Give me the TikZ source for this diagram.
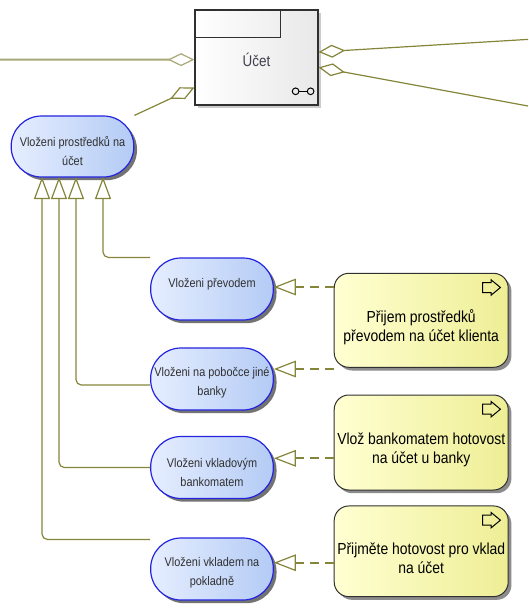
\documentclass[tikz,border=0pt]{standalone}
\usepackage{fontspec}
\setmainfont{Liberation Sans}[FakeStretch=0.87]
\usetikzlibrary{arrows.meta,shadows}
\definecolor{olv}{HTML}{85853A}
\definecolor{olvlight}{HTML}{A8A878}
\definecolor{bbord}{HTML}{2424E0}
\definecolor{bleft}{HTML}{E6EEFF}
\definecolor{bright}{HTML}{B4CBF5}
\definecolor{yleft}{HTML}{FFFFD2}
\definecolor{yright}{HTML}{EEEE96}
\definecolor{ubord}{HTML}{303030}
\definecolor{utext}{HTML}{40404E}
\definecolor{btext}{HTML}{303030}
\begin{document}
\begin{tikzpicture}[x=0.75pt,y=-0.75pt,
  bluebox/.style={draw=bbord,line width=0.9pt,rounded corners=22.8pt,
    left color=bleft,right color=bright,
    minimum width=92pt,minimum height=46.5pt,inner sep=0pt,
    drop shadow={shadow xshift=2.4pt,shadow yshift=-2.4pt,fill=black!55,opacity=1}},
  bluetext/.style={align=center,text=btext,inner sep=0pt,
    font=\fontsize{9.4pt}{14.25pt}\selectfont},
  yelbox/.style={draw=ubord,line width=0.75pt,rounded corners=11pt,
    left color=yleft,right color=yright,
    minimum width=130.5pt,inner sep=0pt,
    drop shadow={shadow xshift=2.4pt,shadow yshift=-2.4pt,fill=black!45,opacity=1}},
  yeltext/.style={align=center,text=black,inner sep=0pt,
    font=\fontsize{12pt}{14.25pt}\selectfont},
  classbox/.style={draw=ubord,line width=0.9pt,left color=white,right color=black!9,
    minimum width=92.25pt,minimum height=71.25pt,inner sep=0pt,
    drop shadow={shadow xshift=2.4pt,shadow yshift=-2.4pt,fill=black!20,opacity=1}},
  gen/.style={draw=olv,line width=0.9pt,rounded corners=4pt,
    -{Triangle[length=16.5pt,width=12pt,fill=white,line width=0.9pt]}},
  real/.style={draw=olv,line width=1.5pt,dash pattern=on 6.75pt off 4.5pt,
    -{Triangle[length=16.5pt,width=12.5pt,fill=white,line width=0.9pt,sep=0pt]}},
  agg/.style={draw=olv,line width=0.9pt,
    -{Diamond[length=20pt,width=9.75pt,fill=white,line width=0.9pt]}},
  icon/.style={draw=black,line width=0.75pt},
]
\useasboundingbox (0,0) rectangle (528,613);

% class box
\node[classbox] (u) at (256.5,57.5) {};
\draw[draw=ubord,line width=0.9pt] (u.north west) rectangle ++(86,28);
\node[text=utext,inner sep=0pt,font=\fontsize{11.6pt}{14pt}\selectfont] (ut) at (256.5,59.5) {Účet};
\begin{scope}[shift={(u.south east)}]
  \draw[icon] (-23,-14.3) circle[radius=2.5pt];
  \draw[icon] (-8,-14.3) circle[radius=2.5pt];
  \draw[icon] (-19.7,-14.3) -- (-11.3,-14.3);
\end{scope}

% blue function boxes
\node[bluebox,minimum height=45.75pt] (b0) at (72.5,146.5) {};
\node[bluetext] (b0t) at (72.5,151) {Vloženi prostředků na\\účet};
\node[bluebox] (b1) at (212,289) {};
\node[bluetext] (b1t) at (212,284) {Vloženi převodem};
\node[bluebox] (b2) at (212,379) {};
\node[bluetext] (b2t) at (212,382.5) {Vloženi na pobočce jiné\\banky};
\node[bluebox] (b3) at (212,467.5) {};
\node[bluetext] (b3t) at (212,472) {Vloženi vkladovým\\bankomatem};
\node[bluebox] (b4) at (212,569) {};
\node[bluetext] (b4t) at (212,572.5) {Vloženi vkladem na\\pokladně};

% yellow process boxes
\node[yelbox,minimum height=70.5pt] (y1) at (421.2,320.3) {};
\node[yeltext] (y1t) at (421.2,327.5) {Přijem prostředků\\převodem na účet klienta};
\node[yelbox,minimum height=71.25pt] (y2) at (421.2,442.5) {};
\node[yeltext] (y2t) at (421.2,449.7) {Vlož bankomatem hotovost\\na účet u banky};
\node[yelbox,minimum height=68pt] (y3) at (421.2,551.3) {};
\node[yeltext] (y3t) at (421.2,558) {Přijměte hotovost pro vklad\\na účet};
\foreach \n in {y1,y2,y3}{
  \draw[icon,shift={(\n.north east)}] (-26,9.7) -- (-17.6,9.7) -- (-17.6,7) -- (-8.3,14.7)
     -- (-17.6,22.4) -- (-17.6,19.7) -- (-26,19.7) -- cycle;
}

% aggregation connectors
\coordinate (e1) at (0,59.6);
\coordinate (e2) at (528,39.4);
\coordinate (e3) at (528,106);
\draw[agg,draw=olvlight,line width=1.5pt] (e1) -- ([yshift=-1.6pt]u.west);
\draw[agg] (b0.north east) -- ([yshift=-22.5pt]u.west);
\draw[agg] (e2) -- ([yshift=4.1pt]u.east);
\draw[agg] (e3) -- ([yshift=-7.4pt]u.east);

% generalization connectors
\coordinate (g1) at (103,177);
\coordinate (g2) at (76,177);
\coordinate (g3) at (59,177);
\coordinate (g4) at (42,177);
\draw[gen] (b1.north west) -| (g1);
\draw[gen] ([yshift=-4.5pt]b2.west) -| (g2);
\draw[gen] (b3.west) -| (g3);
\draw[gen] ([yshift=-1.5pt]b4.north west) -| (g4);

% realization connectors
\coordinate (t1) at ([yshift=1.5pt]b1.east);
\coordinate (t2) at ([yshift=7.5pt]b2.east);
\coordinate (t3) at ([yshift=6.9pt]b3.east);
\coordinate (t4) at ([yshift=4.7pt]b4.east);
\draw[real] (y1.west |- t1) -- (t1);
\draw[real] (y1.west |- t2) -- (t2);
\draw[real] (y2.west |- t3) -- (t3);
\draw[real] (y3.west |- t4) -- (t4);
\end{tikzpicture}
\end{document}
